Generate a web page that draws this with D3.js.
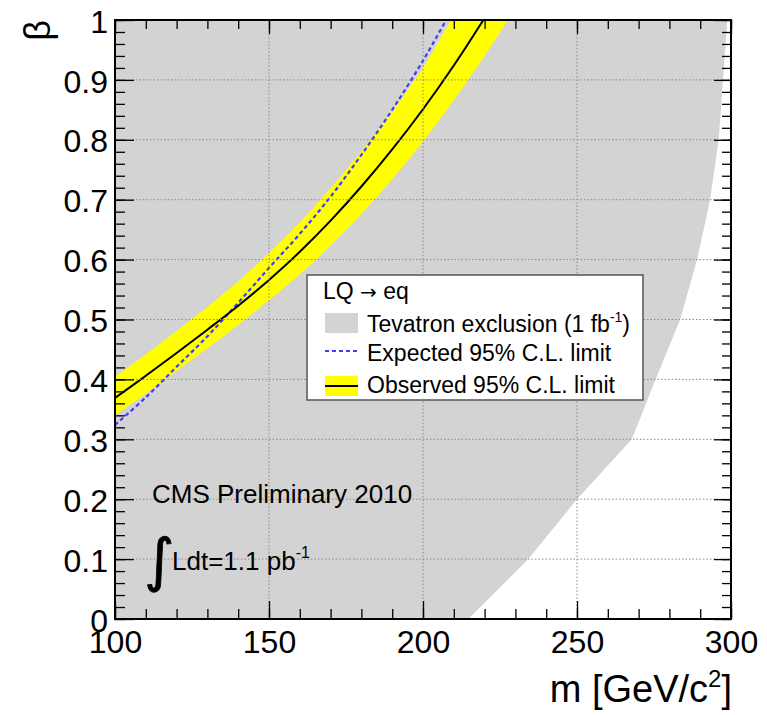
<!DOCTYPE html>
<html>
<head>
<meta charset="utf-8">
<script src="https://cdn.jsdelivr.net/npm/d3@7"></script>
<style>
  html, body { margin: 0; padding: 0; background: #fff; }
  svg { display: block; font-family: "Liberation Sans", Arial, Helvetica, sans-serif; }
</style>
</head>
<body>
<svg id="chart" width="767" height="715"></svg>
<script>
// Leptoquark mass limit vs branching fraction beta (LQ -> eq)

// Axis ticks
const xMajorTicks = [100, 150, 200, 250, 300];
const xMinorTicks = d3.range(100, 301, 10);
const yMajorTicks = [0, 0.1, 0.2, 0.3, 0.4, 0.5, 0.6, 0.7, 0.8, 0.9, 1];
const yMinorTicks = d3.range(0, 51).map(i => i / 50);

// Tevatron excluded region: right-hand boundary [mass, beta]
const tevatronEdge = [
  [214.7, 0.0], [234.2, 0.1], [250.0, 0.2], [267.8, 0.3], [275.5, 0.4],
  [283.5, 0.5], [289.0, 0.6], [293.2, 0.7], [296.0, 0.8], [297.4, 0.9], [298.8, 1.0]
];

// Observed 95% C.L. limit [mass, beta]
const observed = [
  [100, 0.369], [110, 0.406], [120, 0.444], [130, 0.483], [140, 0.523],
  [150, 0.566], [160, 0.613], [170, 0.665], [180, 0.722], [190, 0.784],
  [200, 0.851], [210, 0.924], [219.6, 1.0]
];

// +/-1 sigma band around the observed limit
const bandUpper = [
  [100, 0.404], [110, 0.442], [120, 0.481], [130, 0.521], [140, 0.564],
  [150, 0.611], [160, 0.662], [170, 0.719], [180, 0.781], [190, 0.848],
  [200, 0.920], [209, 1.0]
];
const bandLower = [
  [100, 0.340], [110, 0.376], [120, 0.414], [130, 0.452], [140, 0.491],
  [150, 0.532], [160, 0.575], [170, 0.623], [180, 0.676], [190, 0.734],
  [200, 0.797], [210, 0.866], [220, 0.940], [227.6, 1.0]
];

// Expected 95% C.L. limit [mass, beta]
const expected = [
  [100, 0.324], [110, 0.370], [120, 0.421], [130, 0.472], [140, 0.528],
  [150, 0.586], [160, 0.643], [170, 0.705], [180, 0.775], [190, 0.850],
  [200, 0.932], [207.5, 1.0]
];

const legendItems = ["Tevatron exclusion", "Expected 95% C.L. limit", "Observed 95% C.L. limit"];

// Frame geometry
const X0 = 115, X1 = 731, Y0 = 20, Y1 = 619;
const x = d3.scaleLinear().domain([100, 300]).range([X0, X1]);
const y = d3.scaleLinear().domain([0, 1]).range([Y1, Y0]);

const svg = d3.select("#chart");

svg.append("defs").append("clipPath").attr("id", "plotclip")
  .append("rect").attr("x", X0).attr("y", Y0).attr("width", X1 - X0).attr("height", Y1 - Y0);

const plot = svg.append("g").attr("clip-path", "url(#plotclip)");

plot.append("rect").attr("x", X0).attr("y", Y0).attr("width", X1 - X0).attr("height", Y1 - Y0)
  .attr("fill", "#fff");

// Tevatron exclusion polygon: from the left edge across to the boundary
const tevPoly = [[100, 0]].concat(tevatronEdge, [[100, 1]]);
plot.append("path")
  .attr("d", d3.line().x(d => x(d[0])).y(d => y(d[1]))(tevPoly) + "Z")
  .attr("fill", "#d3d3d3");

// Yellow band
const smooth = d3.line().x(d => x(d[0])).y(d => y(d[1])).curve(d3.curveCatmullRom);
const bandPath = smooth(bandUpper) + "L" + smooth(bandLower.slice().reverse()).slice(1) + "Z";
plot.append("path").attr("d", bandPath).attr("fill", "#ffff00");

// Dotted grid
const grid = svg.append("g").attr("stroke", "#8a8a8a").attr("stroke-width", 1)
  .attr("stroke-dasharray", "1.5,2");
grid.selectAll("line.gx").data(xMajorTicks.slice(1, -1)).join("line")
  .attr("x1", d => x(d)).attr("x2", d => x(d)).attr("y1", Y0).attr("y2", Y1);
grid.selectAll("line.gy").data(yMajorTicks.slice(1, -1)).join("line")
  .attr("y1", d => y(d)).attr("y2", d => y(d)).attr("x1", X0).attr("x2", X1);

// Limit curves
plot.append("path").datum(expected).attr("d", smooth)
  .attr("fill", "none").attr("stroke", "#3c3cff").attr("stroke-width", 2.2)
  .attr("stroke-dasharray", "4,3");
plot.append("path").datum(observed).attr("d", smooth)
  .attr("fill", "none").attr("stroke", "#000").attr("stroke-width", 2);

// Axes with inward ticks
const fontTick = 32;
function styleAxis(g) {
  g.select(".domain").remove();
  g.selectAll(".tick line").attr("stroke", "#000").attr("stroke-width", 1.3);
  g.selectAll("text").attr("font-size", fontTick).attr("fill", "#000")
    .attr("font-family", "'Liberation Sans', Arial, Helvetica, sans-serif");
}
svg.append("g").attr("transform", `translate(0,${Y1})`)
  .call(d3.axisBottom(x).tickValues(xMinorTicks).tickSize(-10).tickFormat(""))
  .call(styleAxis);
svg.append("g").attr("transform", `translate(0,${Y1})`)
  .call(d3.axisBottom(x).tickValues(xMajorTicks).tickSize(-18).tickPadding(11).tickFormat(d3.format("d")))
  .call(styleAxis);
svg.append("g").attr("transform", `translate(0,${Y0})`)
  .call(d3.axisTop(x).tickValues(xMinorTicks).tickSize(-9).tickFormat(""))
  .call(styleAxis);
svg.append("g").attr("transform", `translate(0,${Y0})`)
  .call(d3.axisTop(x).tickValues(xMajorTicks).tickSize(-14).tickFormat(""))
  .call(styleAxis);
svg.append("g").attr("transform", `translate(${X0},0)`)
  .call(d3.axisLeft(y).tickValues(yMinorTicks).tickSize(-10).tickFormat(""))
  .call(styleAxis);
svg.append("g").attr("transform", `translate(${X0},0)`)
  .call(d3.axisLeft(y).tickValues(yMajorTicks).tickSize(-19).tickPadding(7).tickFormat(d => d3.format("~g")(d)))
  .call(styleAxis)
  .selectAll("text").attr("dy", "0.38em");
svg.append("g").attr("transform", `translate(${X1},0)`)
  .call(d3.axisRight(y).tickValues(yMinorTicks).tickSize(-9).tickFormat(""))
  .call(styleAxis);
svg.append("g").attr("transform", `translate(${X1},0)`)
  .call(d3.axisRight(y).tickValues(yMajorTicks).tickSize(-17).tickFormat(""))
  .call(styleAxis);

// Frame
svg.append("rect").attr("x", X0).attr("y", Y0).attr("width", X1 - X0).attr("height", Y1 - Y0)
  .attr("fill", "none").attr("stroke", "#000").attr("stroke-width", 2);

// Axis titles
const xt = svg.append("text").attr("x", 732).attr("y", 702).attr("text-anchor", "end")
  .attr("font-size", 38).attr("fill", "#000");
xt.append("tspan").text("m [GeV/c");
xt.append("tspan").attr("font-size", 24).attr("dy", -15).text("2");
xt.append("tspan").attr("dy", 15).text("]");

svg.append("text").attr("transform", "translate(50,20) rotate(-90)")
  .attr("text-anchor", "end").attr("font-size", 36).attr("fill", "#000").text("β");

// Legend
const lg = svg.append("g");
lg.append("rect").attr("x", 307).attr("y", 275).attr("width", 336).attr("height", 125)
  .attr("fill", "#fff").attr("stroke", "#555").attr("stroke-width", 1.5);
const lfs = 23;
const lq = lg.append("text").attr("x", 323).attr("y", 299).attr("font-size", lfs);
lq.append("tspan").text("LQ ");
lq.append("tspan").attr("font-family", "'DejaVu Sans', sans-serif").attr("font-size", 20).text("→");
lq.append("tspan").text(" eq");
lg.append("rect").attr("x", 325).attr("y", 313).attr("width", 33).attr("height", 20).attr("fill", "#d3d3d3");
const t1 = lg.append("text").attr("x", 367).attr("y", 332).attr("font-size", lfs);
t1.append("tspan").text(legendItems[0] + " (1 fb");
t1.append("tspan").attr("font-size", 14).attr("dy", -10).text("-1");
t1.append("tspan").attr("dy", 10).text(")");
lg.append("line").attr("x1", 325).attr("x2", 358).attr("y1", 351).attr("y2", 351)
  .attr("stroke", "#3c3cff").attr("stroke-width", 2).attr("stroke-dasharray", "4,3");
lg.append("text").attr("x", 367).attr("y", 361).attr("font-size", lfs).text(legendItems[1]);
lg.append("rect").attr("x", 325).attr("y", 376).attr("width", 33).attr("height", 20).attr("fill", "#ffff00");
lg.append("line").attr("x1", 325).attr("x2", 358).attr("y1", 386).attr("y2", 386)
  .attr("stroke", "#000").attr("stroke-width", 2);
lg.append("text").attr("x", 367).attr("y", 393).attr("font-size", lfs).text(legendItems[2]);

// Annotations
svg.append("text").attr("x", 152).attr("y", 503).attr("font-size", 26).attr("fill", "#000")
  .text("CMS Preliminary 2010");
svg.append("text").attr("x", 144).attr("y", 580).attr("font-size", 58)
  .attr("font-family", "'DejaVu Sans', sans-serif").attr("fill", "#000")
  .attr("stroke", "#000").attr("stroke-width", 0.8).text("∫");
const lum = svg.append("text").attr("x", 172).attr("y", 570).attr("font-size", 26).attr("fill", "#000");
lum.append("tspan").text("Ldt=1.1 pb");
lum.append("tspan").attr("font-size", 16).attr("dy", -12).text("-1");
</script>
</body>
</html>
